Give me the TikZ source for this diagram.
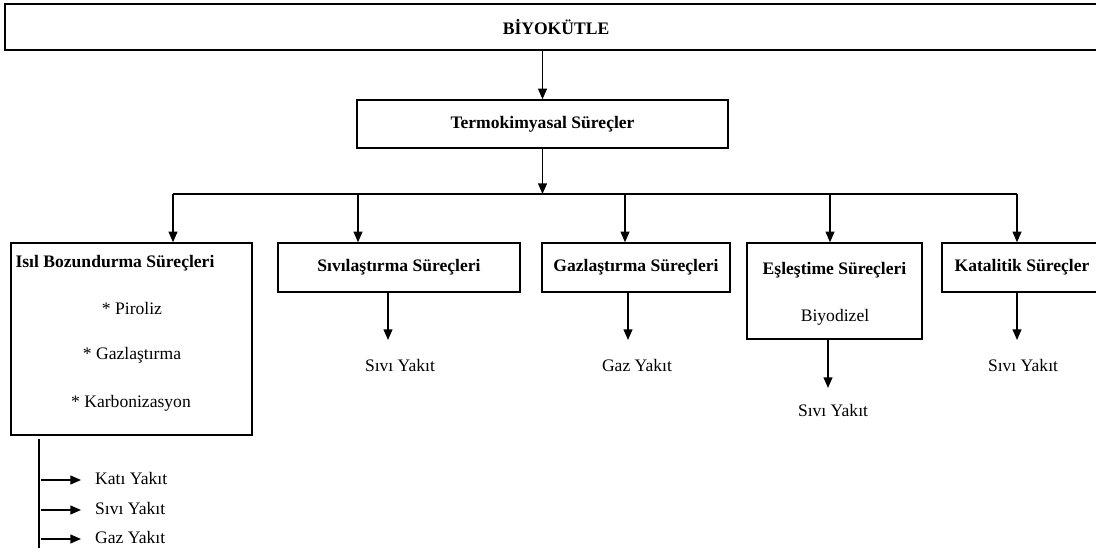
\documentclass[tikz,border=0pt]{standalone}
\usepackage{fontspec}
\setmainfont{Liberation Serif}
\usetikzlibrary{arrows.meta}

\begin{document}
\fontsize{10}{12}\selectfont
\begin{tikzpicture}[
		box/.style={draw, line width=0.8pt, inner sep=0pt},
		ok/.style={-{Triangle[width=5pt,length=6pt]}, line width=0.8pt},
		head/.style={font=\bfseries}]
			\useasboundingbox (0,0) rectangle (21.92,11.06);
			
			\node[box, head, minimum width=22.04cm, minimum height=0.92cm] (bio) at (11.12,10.52) {BİYOKÜTLE};
			\node[box, head, minimum width=7.42cm, minimum height=0.96cm] (termo) at (10.85,8.58) {Termokimyasal Süreçler};
			\draw[ok] (bio.south -| termo.north) -- (termo.north);
			
			\coordinate (bus) at (10.85,7.18);
			\coordinate (busL) at (3.46,7.18);
			\coordinate (busR) at (20.34,7.18);
			\draw[line width=0.8pt] (busL) -- (busR);
			\draw[ok] (termo.south) -- (bus);
			
			\node[box, minimum width=4.82cm, minimum height=3.84cm] (isil) at (2.63,4.28) {};
			\node[box, head, minimum width=4.84cm, minimum height=0.98cm] (sivi) at (7.98,5.71) {Sıvılaştırma Süreçleri};
			\node[box, head, minimum width=3.76cm, minimum height=0.98cm] (gaz) at (12.72,5.71) {Gazlaştırma Süreçleri};
			\node[box, minimum width=3.5cm, minimum height=1.92cm] (esl) at (16.69,5.24) {};
			\node[box, head, minimum width=3.2cm, minimum height=0.98cm] (kat) at (20.44,5.71) {Katalitik Süreçler};
			
			\foreach \x/\b in {3.46/isil, 7.16/sivi, 12.5/gaz, 16.6/esl, 20.34/kat} {
				\coordinate (top-\b) at (\x,7.18);
				\draw[ok] (top-\b) -- (top-\b |- \b.north);
			}
			
			\node[head] (isilT) at (2.3,5.8) {Isıl Bozundurma Süreçleri};
			\node (pir) at (2.64,4.9) {* Piroliz};
			\node (gazl) at (2.64,3.96) {* Gazlaştırma};
			\node (karb) at (2.62,3.0) {* Karbonizasyon};
			
			\node[head] (eslT) at (16.69,5.66) {Eşleştime Süreçleri};
			\node (biyo) at (16.7,4.72) {Biyodizel};
			
			\node (siviY) at (8.0,3.76) {Sıvı Yakıt};
			\node (gazY) at (12.74,3.76) {Gaz Yakıt};
			\node (eslY) at (16.66,2.86) {Sıvı Yakıt};
			\node (katY) at (20.46,3.76) {Sıvı Yakıt};
			\draw[ok] (sivi.south -| 7.76,0) -- (7.76,4.26);
			\draw[ok] (gaz.south -| 12.56,0) -- (12.56,4.26);
			\draw[ok] (esl.south -| 16.56,0) -- (16.56,3.3);
			\draw[ok] (kat.south -| 20.34,0) -- (20.34,4.26);
			
			\coordinate (stem) at (0.78,0.1);
			\draw[line width=0.8pt] (isil.south -| stem) ++(0,-0.06) -- (stem);
			\node[anchor=west] (katiY) at (1.78,1.5) {Katı Yakıt};
			\node[anchor=west] (sivi2Y) at (1.78,0.9) {Sıvı Yakıt};
			\node[anchor=west] (gaz2Y) at (1.78,0.32) {Gaz Yakıt};
			\foreach \n in {katiY, sivi2Y, gaz2Y}
				\draw[ok] (stem |- \n.west) ++(0.04,-0.04) -- ([xshift=-0.16cm,yshift=-0.04cm]\n.west);
		\end{tikzpicture}
\end{document}
